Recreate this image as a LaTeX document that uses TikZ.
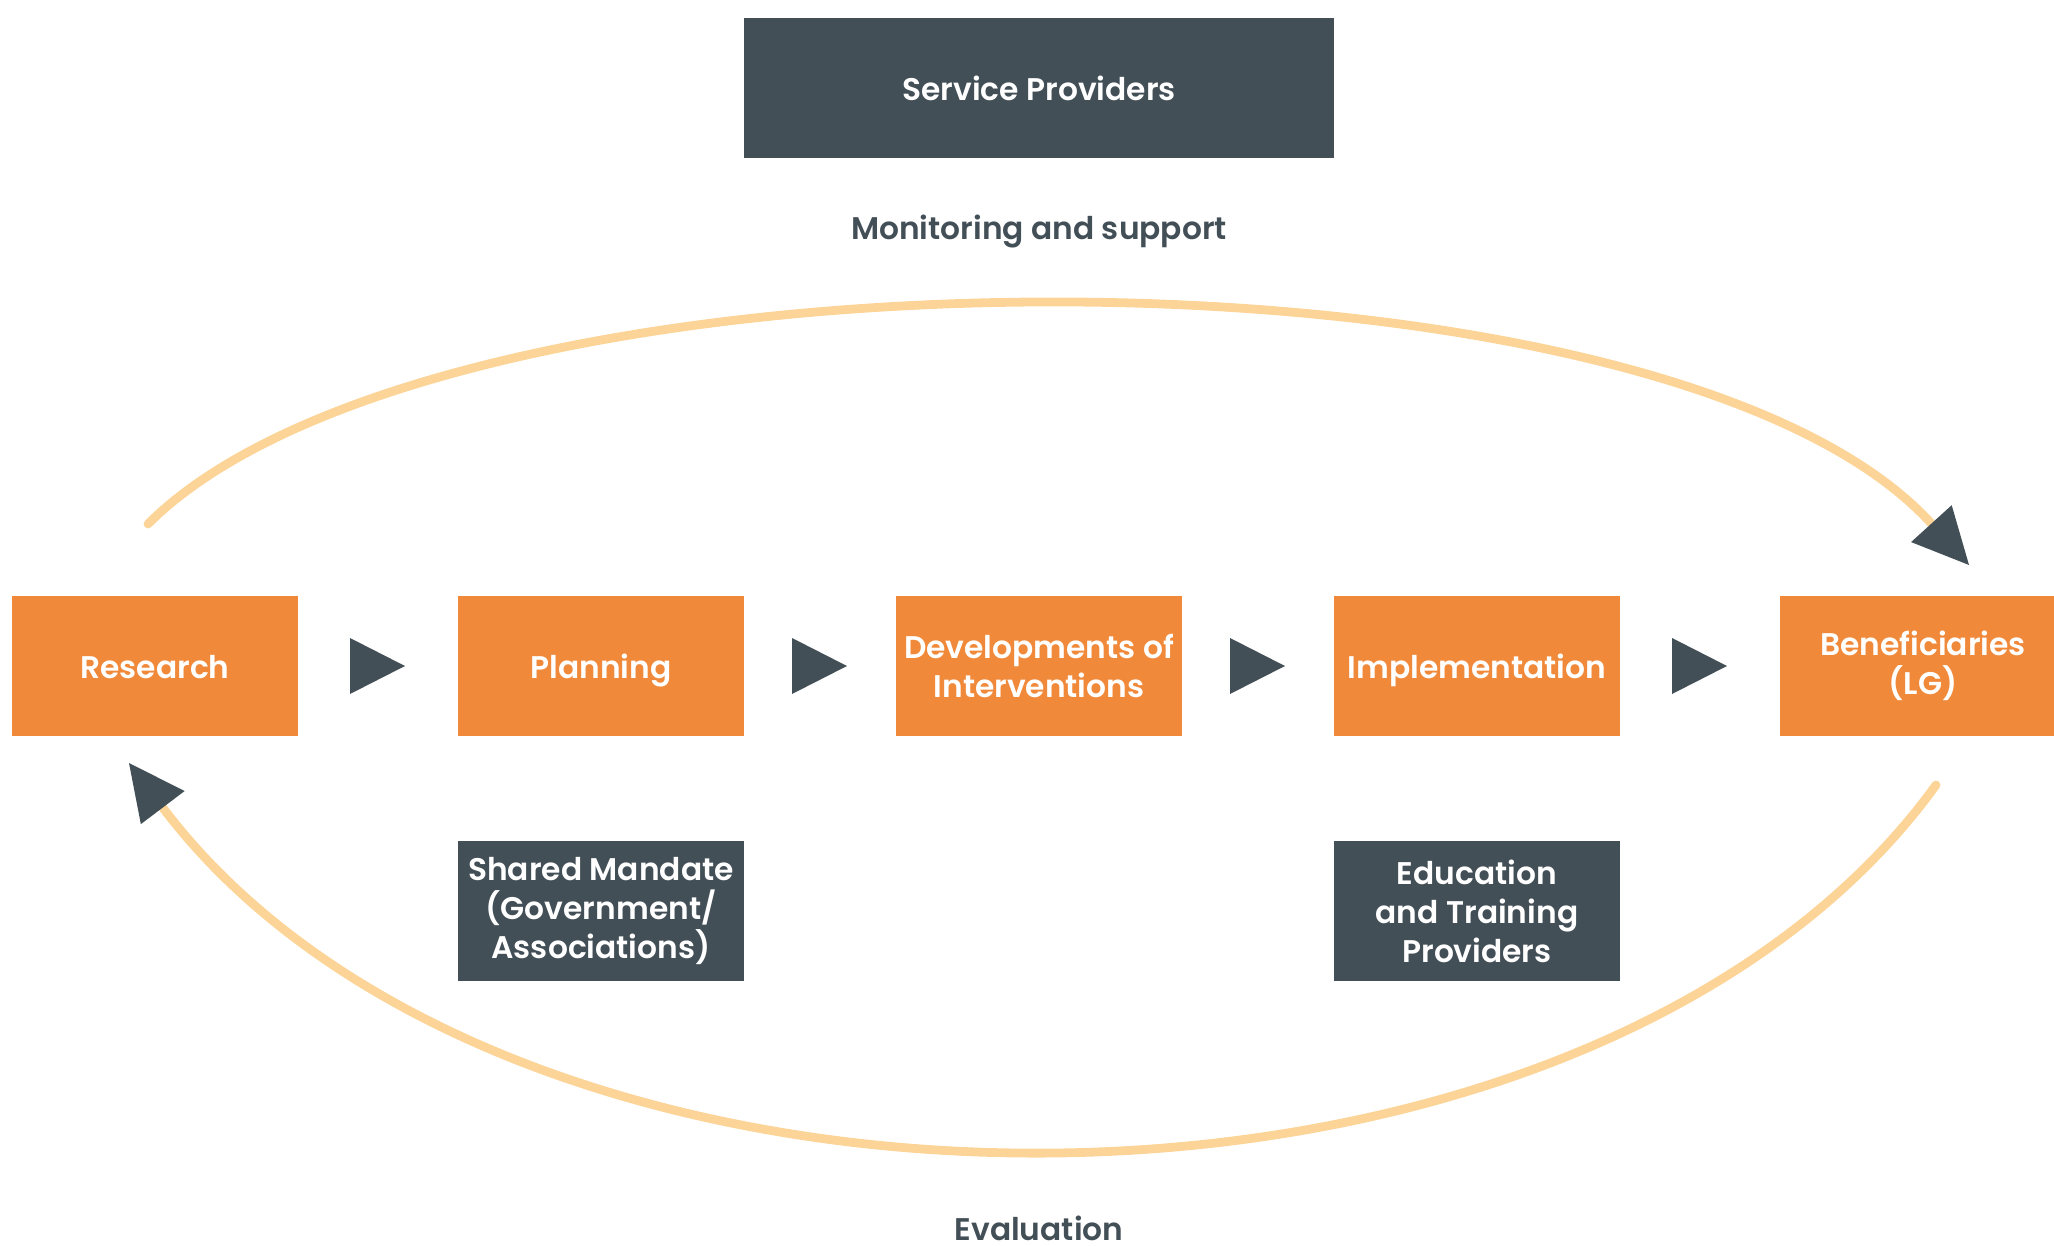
\documentclass[tikz,border=0pt]{standalone}
\usepackage{fontspec}
\setmainfont{Poppins}[BoldFont={* SemiBold}]
\usetikzlibrary{arrows.meta,calc}

\definecolor{stepOrange}{HTML}{F0893A}
\definecolor{slate}{HTML}{434F57}
\definecolor{loopPeach}{HTML}{FCD497}

\begin{document}
\begin{tikzpicture}[x=0.01cm, y=0.01cm,
    stage/.style = {fill=stepOrange, text=white, align=center, inner sep=0pt,
                    minimum width=2.86cm, minimum height=1.40cm,
                    font=\bfseries\fontsize{8.9}{11.1}\selectfont},
    actor/.style = {stage, fill=slate},
    oneline/.style = {text height=0.7em, text depth=0pt},
    caption/.style = {text=slate, anchor=base,
                      font=\bfseries\fontsize{8.9}{11.1}\selectfont},
    loop/.style = {loopPeach, line width=2.5pt, line cap=round,
                   -{Triangle[length=15.9pt, width=15.6pt, color=slate, line width=0pt]}}]

    \useasboundingbox (0,0) rectangle (2054,-1246);

    % top row
    \node[actor, oneline, minimum width=5.90cm] (providers) at (1039,-88) {Service Providers};
    \node[caption] (monitor) at (1039,-240) {Monitoring and support};

    % the chain
    \node[stage, oneline] (research) at (155,-666)  {Research};
    \node[stage, oneline] (planning) at (601,-666)  {Planning};
    \node[stage]          (devel)    at (1039,-666) {Developments of\\Interventions};
    \node[stage, oneline] (impl)     at (1477,-666) {Implementation};
    \node[stage]          (benef)    at (1923,-666) {Beneficiaries\\(LG)};

    \foreach \a/\b in {research/planning, planning/devel, devel/impl, impl/benef}
        \fill[slate] ($(\a.east)!0.5!(\b.west)$) ++(-28,28) -- ++(55,-28) -- ++(-55,-28) -- cycle;

    % bottom row
    \node[actor] (mandate)  at (601,-911)  {Shared Mandate\\(Government/\\Associations)};
    \node[actor] (training) at (1477,-911) {Education\\and Training\\Providers};
    \node[caption] (evaluation) at (1039,-1240) {Evaluation};

    % loops
    \coordinate (topstart) at (148,-524);
    \coordinate (toptip)   at (1969,-565);
    \coordinate (botstart) at (1936,-785);
    \coordinate (bottip)   at (129,-763);
    \draw[loop] (topstart) .. controls (441,-231) and (1660,-225) .. (toptip);
    \draw[loop] (botstart) .. controls (1584,-1272) and (514,-1272) .. (bottip);
\end{tikzpicture}
\end{document}
